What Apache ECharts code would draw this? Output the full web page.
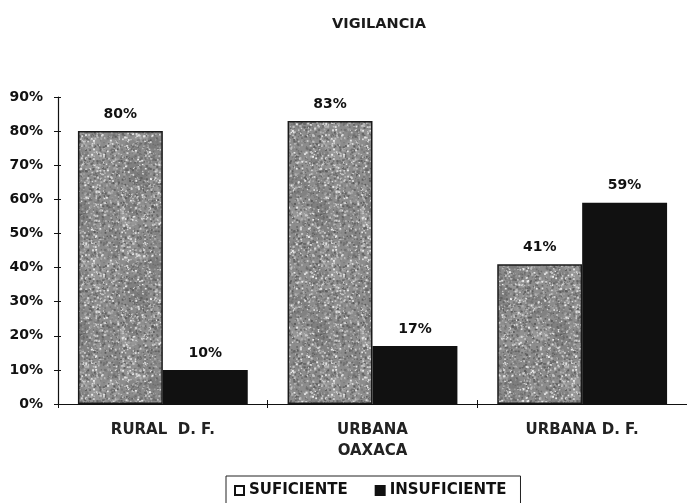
<!DOCTYPE html>
<html>
<head>
<meta charset="utf-8">
<script src="https://cdn.jsdelivr.net/npm/echarts@6/dist/echarts.min.js"></script>
<style>
  html, body { margin: 0; padding: 0; background: #fff; }
  #chart { width: 687px; height: 503px; }
</style>
</head>
<body>
<div id="chart"></div>
<script>
// Chart data
const categories = ['RURAL  D. F.', 'URBANA\nOAXACA', 'URBANA D. F.'];
const suficiente = [80, 83, 41];
const insuficiente = [10, 17, 59];
const seriesNames = ['SUFICIENTE', 'INSUFICIENTE'];
const chartTitle = 'VIGILANCIA';

const FONT = '"DejaVu Sans", Verdana, sans-serif';

// Mottled grey fill for the SUFICIENTE bars (deterministic LCG grain)
function makeGrain() {
  const size = 120;
  const c = document.createElement('canvas');
  c.width = size; c.height = size;
  const ctx = c.getContext('2d');
  ctx.fillStyle = '#8c8c8c';
  ctx.fillRect(0, 0, size, size);
  let s = 20240;
  const rnd = () => { s = (s * 1103515245 + 12345) & 0x7fffffff; return s / 0x7fffffff; };
  // soft blotches
  for (let i = 0; i < 60; i++) {
    const x = rnd() * size, y = rnd() * size, r = 4 + rnd() * 9;
    const g = Math.round(110 + rnd() * 60);
    ctx.fillStyle = 'rgba(' + g + ',' + g + ',' + g + ',0.45)';
    ctx.beginPath(); ctx.arc(x, y, r, 0, Math.PI * 2); ctx.fill();
  }
  // fine speckles
  for (let i = 0; i < 3200; i++) {
    const x = rnd() * size, y = rnd() * size;
    const v = rnd();
    const g = v < 0.55 ? Math.round(90 + v * 70) : Math.round(150 + (v - 0.55) * 200);
    ctx.fillStyle = 'rgb(' + g + ',' + g + ',' + g + ')';
    const r = 0.8 + rnd() * 1.4;
    ctx.fillRect(x, y, r, r);
  }
  return c;
}
const grain = makeGrain();

const chart = echarts.init(document.getElementById('chart'), null, { renderer: 'canvas' });

const labelStyle = {
  show: true,
  position: 'top',
  distance: 10,
  formatter: '{c}%',
  fontFamily: FONT,
  fontWeight: 'bold',
  fontSize: 14,
  color: '#111'
};

chart.setOption({
  animation: false,
  backgroundColor: '#fff',
  title: {
    text: chartTitle,
    left: 374,
    textAlign: 'center',
    top: 12,
    textStyle: { fontFamily: FONT, fontWeight: 'bold', fontSize: 14.5, color: '#1a1a1a' }
  },
  legend: {
    left: 226,
    top: 476,
    data: [
      { name: seriesNames[0], icon: 'rect', itemStyle: { color: '#fff', borderColor: '#111', borderWidth: 2 } },
      { name: seriesNames[1], icon: 'rect', itemStyle: { color: '#111', borderColor: '#111', borderWidth: 2 } }
    ],
    itemWidth: 9,
    itemHeight: 9,
    itemGap: 27,
    padding: [7, 14, 12, 8],
    borderColor: '#222',
    borderWidth: 1,
    textStyle: { fontFamily: FONT, fontWeight: 'bold', fontSize: 15, color: '#111' }
  },
  grid: { left: 58, top: 97, width: 633, height: 307 },
  xAxis: [{
    type: 'category',
    data: categories,
    axisLine: { lineStyle: { color: '#111', width: 1.2 } },
    axisTick: { show: true, length: 4, lineStyle: { color: '#111' } },
    axisLabel: {
      margin: 16,
      lineHeight: 21,
      fontFamily: FONT,
      fontWeight: 'bold',
      fontSize: 15,
      color: '#222'
    }
  }, {
    type: 'category',
    position: 'bottom',
    data: categories,
    axisLine: { show: false },
    axisTick: { show: true, inside: true, length: 4, lineStyle: { color: '#111' } },
    axisLabel: { show: false }
  }],
  yAxis: [{
    type: 'value',
    min: 0,
    max: 90,
    interval: 10,
    splitLine: { show: false },
    axisLine: { show: true, lineStyle: { color: '#111', width: 1.2 } },
    axisTick: { show: true, length: 4, lineStyle: { color: '#111' } },
    axisLabel: {
      margin: 15,
      formatter: '{value}%',
      fontFamily: FONT,
      fontWeight: 'bold',
      fontSize: 14,
      color: '#111'
    }
  }, {
    type: 'value',
    position: 'left',
    min: 0,
    max: 90,
    interval: 10,
    splitLine: { show: false },
    axisLine: { show: false },
    axisTick: { show: true, inside: true, length: 3, lineStyle: { color: '#111' } },
    axisLabel: { show: false }
  }],
  series: [
    {
      name: seriesNames[0],
      type: 'bar',
      data: suficiente,
      barGap: '0%',
      barCategoryGap: '19%',
      itemStyle: {
        color: { image: grain, repeat: 'repeat' },
        borderColor: '#1a1a1a',
        borderWidth: 1.5
      },
      label: labelStyle
    },
    {
      name: seriesNames[1],
      type: 'bar',
      data: insuficiente,
      itemStyle: { color: '#111' },
      label: labelStyle
    }
  ]
});
</script>
</body>
</html>
